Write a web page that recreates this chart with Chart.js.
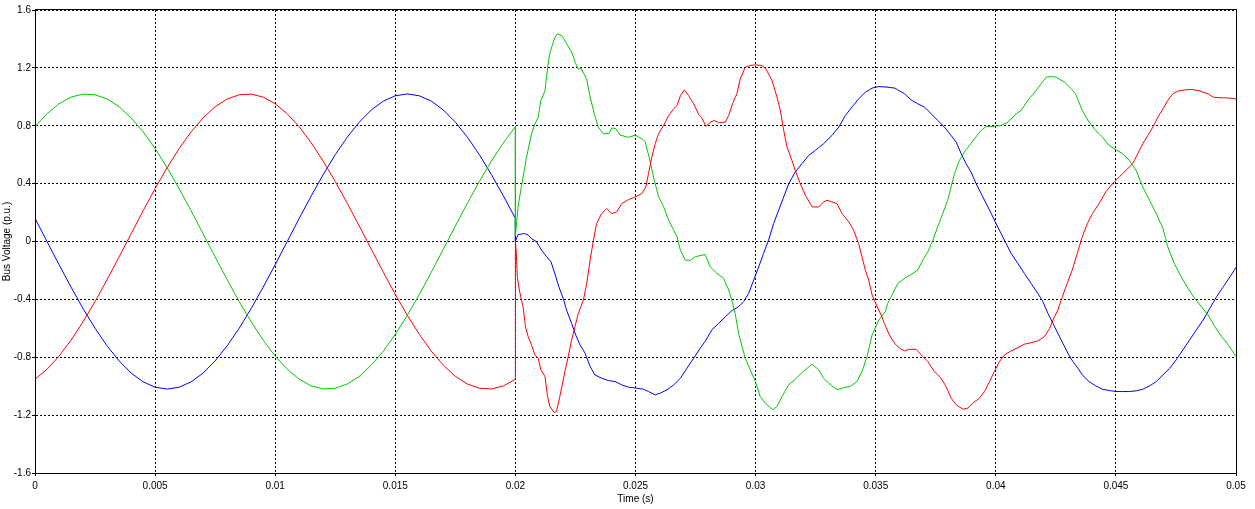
<!DOCTYPE html>
<html>
<head>
<meta charset="utf-8">
<script src="https://cdn.jsdelivr.net/npm/chart.js@4/dist/chart.umd.min.js"></script>
<style>
html,body{margin:0;padding:0;background:#fff;}
#wrap{width:1255px;height:509px;}
</style>
</head>
<body>
<div id="wrap"><canvas id="c" width="1255" height="509"></canvas></div>
<script>
// ---- data ----
const xTickLabels = ['0','0.005','0.01','0.015','0.02','0.025','0.03','0.035','0.04','0.045','0.05'];
const yTickLabels = ['-1.6','-1.2','-0.8','-0.4','0','0.4','0.8','1.2','1.6'];

// pre-fault samples (0 .. 0.02 s)
const preTime = [0,0.0005,0.001,0.0015,0.002,0.0025,0.003,0.0035,0.004,0.0045,0.005,0.0055,0.006,0.0065,0.007,0.0075,0.008,0.0085,0.009,0.0095,0.01,0.0105,0.011,0.0115,0.012,0.0125,0.013,0.0135,0.014,0.0145,0.015,0.0155,0.016,0.0165,0.017,0.0175,0.018,0.0185,0.019,0.0195,0.02];
const redPre = [-0.952,-0.883,-0.793,-0.682,-0.555,-0.415,-0.264,-0.107,0.053,0.212,0.366,0.510,0.642,0.758,0.855,0.932,0.985,1.014,1.019,0.998,0.952,0.883,0.793,0.682,0.555,0.415,0.264,0.107,-0.053,-0.212,-0.366,-0.510,-0.642,-0.758,-0.855,-0.932,-0.985,-1.014,-1.019,-0.998,-0.952];
const greenPre = [0.793,0.883,0.952,0.998,1.019,1.014,0.985,0.932,0.855,0.758,0.642,0.510,0.366,0.212,0.053,-0.107,-0.264,-0.415,-0.555,-0.682,-0.793,-0.883,-0.952,-0.998,-1.019,-1.014,-0.985,-0.932,-0.855,-0.758,-0.642,-0.510,-0.366,-0.212,-0.053,0.107,0.264,0.415,0.555,0.682,0.793];
const bluePre = [0.160,0,-0.160,-0.315,-0.463,-0.600,-0.721,-0.825,-0.909,-0.970,-1.007,-1.020,-1.007,-0.970,-0.909,-0.825,-0.721,-0.600,-0.463,-0.315,-0.160,0,0.160,0.315,0.463,0.600,0.721,0.825,0.909,0.970,1.007,1.020,1.007,0.970,0.909,0.825,0.721,0.600,0.463,0.315,0.160];

// post-fault samples (0.02 .. 0.05 s)
const redPostT = [0.02,0.02004,0.02008,0.02014,0.02022,0.02032,0.02042,0.02053,0.02067,0.02081,0.02095,0.02106,0.02123,0.02134,0.02143,0.02162,0.02171,0.02185,0.02206,0.0222,0.02234,0.02248,0.02262,0.02283,0.02297,0.02311,0.02325,0.02338,0.02359,0.0238,0.02401,0.02422,0.02443,0.02471,0.02499,0.02526,0.02543,0.02554,0.02568,0.02582,0.02596,0.02617,0.02638,0.02659,0.02673,0.02687,0.02703,0.02721,0.02742,0.02763,0.02776,0.02794,0.02811,0.02829,0.02846,0.02874,0.02888,0.02904,0.02922,0.02936,0.02957,0.02978,0.02999,0.03026,0.03043,0.03068,0.03089,0.03103,0.03117,0.03131,0.03151,0.03165,0.03186,0.03207,0.03235,0.03263,0.03283,0.03297,0.03318,0.03339,0.0336,0.03388,0.03408,0.03429,0.03443,0.03457,0.03471,0.03485,0.03506,0.03526,0.03536,0.03557,0.03578,0.03599,0.0362,0.0364,0.03668,0.03696,0.03717,0.03744,0.03772,0.03793,0.03814,0.03835,0.03863,0.03883,0.03904,0.03932,0.03953,0.03974,0.03994,0.04015,0.04036,0.04064,0.04092,0.04119,0.04147,0.04175,0.04203,0.04224,0.04238,0.04258,0.04277,0.04297,0.04318,0.04339,0.0436,0.04381,0.04402,0.0443,0.04458,0.04486,0.04514,0.04542,0.0457,0.04591,0.04612,0.04633,0.04654,0.04675,0.04696,0.04716,0.04737,0.04758,0.04786,0.04814,0.04842,0.04863,0.04884,0.04905,0.04933,0.04961,0.05];
const redPostV = [0,-0.083,-0.244,-0.313,-0.382,-0.451,-0.589,-0.657,-0.715,-0.784,-0.807,-0.887,-0.933,-1.071,-1.14,-1.182,-1.175,-1.071,-0.899,-0.795,-0.68,-0.589,-0.497,-0.405,-0.29,-0.129,0.009,0.124,0.193,0.228,0.193,0.205,0.262,0.29,0.308,0.331,0.377,0.469,0.584,0.676,0.745,0.802,0.871,0.917,0.94,1.009,1.048,1.009,0.952,0.878,0.855,0.795,0.825,0.837,0.821,0.825,0.871,0.952,1.021,1.124,1.205,1.216,1.221,1.216,1.193,1.113,0.998,0.906,0.768,0.653,0.561,0.492,0.4,0.32,0.239,0.239,0.274,0.285,0.274,0.262,0.193,0.136,0.078,-0.014,-0.106,-0.198,-0.267,-0.37,-0.451,-0.52,-0.566,-0.646,-0.703,-0.738,-0.756,-0.745,-0.745,-0.795,-0.83,-0.899,-0.945,-1.002,-1.083,-1.129,-1.159,-1.152,-1.117,-1.083,-1.037,-0.968,-0.899,-0.83,-0.784,-0.756,-0.733,-0.71,-0.699,-0.687,-0.657,-0.6,-0.543,-0.474,-0.382,-0.29,-0.198,-0.083,0.032,0.124,0.193,0.262,0.343,0.4,0.446,0.492,0.538,0.607,0.676,0.733,0.791,0.86,0.917,0.975,1.021,1.039,1.048,1.051,1.044,1.032,1.021,0.998,0.993,0.993,0.986];

const greenPostT = [0.02,0.02011,0.02025,0.02046,0.02067,0.02081,0.02095,0.02106,0.02123,0.02134,0.02143,0.02164,0.02175,0.02195,0.02209,0.02234,0.02251,0.02262,0.02273,0.02297,0.02311,0.02329,0.02345,0.02366,0.0239,0.02401,0.02418,0.02436,0.02471,0.02499,0.02527,0.0254,0.02557,0.02575,0.02596,0.02617,0.02638,0.02659,0.02673,0.02687,0.02708,0.02729,0.02749,0.0279,0.02811,0.02839,0.02867,0.02888,0.02901,0.02915,0.02929,0.02957,0.02978,0.02999,0.03019,0.0304,0.03072,0.03089,0.0311,0.03138,0.03165,0.03193,0.03235,0.03263,0.03283,0.03304,0.03339,0.03367,0.03394,0.03422,0.03443,0.03464,0.03485,0.03513,0.0354,0.0355,0.03571,0.03592,0.0362,0.03647,0.03675,0.03696,0.03717,0.03738,0.03758,0.03779,0.038,0.03814,0.03828,0.03849,0.03869,0.0389,0.03911,0.03939,0.0396,0.03988,0.04022,0.0405,0.04085,0.04106,0.04133,0.04168,0.04189,0.0421,0.04231,0.04251,0.04286,0.04314,0.04332,0.0436,0.04388,0.04416,0.04444,0.04472,0.045,0.04528,0.04556,0.04584,0.04612,0.0464,0.04668,0.04696,0.04716,0.04744,0.04772,0.048,0.04828,0.04856,0.04884,0.04912,0.0494,0.04968,0.05];
const greenPostV = [0.04,0.24,0.38,0.58,0.745,0.81,0.86,0.975,1.04,1.2,1.3,1.41,1.435,1.42,1.38,1.31,1.23,1.19,1.2,1.12,1.0,0.88,0.79,0.745,0.745,0.785,0.78,0.735,0.72,0.735,0.71,0.69,0.58,0.445,0.31,0.24,0.147,0.078,0.032,-0.06,-0.13,-0.13,-0.105,-0.09,-0.175,-0.22,-0.255,-0.335,-0.405,-0.497,-0.635,-0.807,-0.887,-0.968,-1.071,-1.117,-1.163,-1.14,-1.071,-0.99,-0.952,-0.906,-0.848,-0.887,-0.945,-0.979,-1.025,-1.009,-1.002,-0.968,-0.899,-0.795,-0.646,-0.543,-0.485,-0.428,-0.359,-0.29,-0.255,-0.228,-0.198,-0.129,-0.071,0.009,0.101,0.193,0.285,0.377,0.469,0.561,0.618,0.664,0.71,0.768,0.795,0.795,0.802,0.825,0.883,0.906,0.975,1.044,1.09,1.136,1.14,1.136,1.101,1.055,1.021,0.906,0.825,0.768,0.722,0.664,0.634,0.607,0.561,0.492,0.377,0.285,0.193,0.09,-0.037,-0.156,-0.244,-0.324,-0.393,-0.451,-0.508,-0.589,-0.657,-0.715,-0.795];

const bluePostT = [0.02,0.02011,0.02039,0.02053,0.02067,0.02088,0.02109,0.0213,0.02148,0.02164,0.02181,0.02199,0.02213,0.02234,0.02251,0.02269,0.0229,0.02311,0.02331,0.02359,0.02387,0.02415,0.02443,0.02471,0.02506,0.02533,0.02554,0.02582,0.02603,0.02631,0.02659,0.02687,0.02714,0.02742,0.02769,0.0279,0.02818,0.02846,0.02874,0.02901,0.02929,0.0295,0.02971,0.02992,0.03013,0.03033,0.03054,0.03075,0.03096,0.03117,0.03138,0.03165,0.03193,0.03221,0.03249,0.03283,0.03318,0.03346,0.03374,0.03401,0.03429,0.03457,0.03485,0.03513,0.03547,0.03579,0.03592,0.0362,0.03647,0.03675,0.03703,0.03731,0.03758,0.03786,0.03814,0.03835,0.03856,0.03876,0.03897,0.03918,0.03939,0.0396,0.03981,0.04001,0.04022,0.04043,0.04064,0.04092,0.04119,0.04147,0.04175,0.04196,0.04217,0.04238,0.04258,0.04279,0.043,0.04321,0.04342,0.0436,0.04388,0.04416,0.04444,0.04472,0.045,0.04528,0.04556,0.04584,0.04612,0.0464,0.04668,0.04696,0.04724,0.04751,0.04779,0.04807,0.04835,0.04863,0.04891,0.04919,0.04947,0.04975,0.05];
const bluePostV = [0,0.048,0.055,0.044,0.021,-0.002,-0.06,-0.106,-0.14,-0.221,-0.313,-0.393,-0.474,-0.566,-0.646,-0.715,-0.772,-0.864,-0.922,-0.945,-0.961,-0.968,-0.991,-1.007,-1.014,-1.021,-1.037,-1.06,-1.048,-1.025,-0.991,-0.945,-0.876,-0.807,-0.738,-0.69,-0.611,-0.566,-0.52,-0.478,-0.451,-0.416,-0.359,-0.267,-0.175,-0.083,0.009,0.124,0.216,0.308,0.4,0.48,0.538,0.595,0.63,0.676,0.733,0.791,0.871,0.929,0.986,1.032,1.06,1.071,1.067,1.06,1.048,1.021,0.979,0.952,0.929,0.883,0.837,0.791,0.733,0.687,0.607,0.538,0.48,0.4,0.331,0.262,0.193,0.124,0.055,-0.014,-0.083,-0.152,-0.221,-0.29,-0.359,-0.416,-0.497,-0.566,-0.634,-0.703,-0.772,-0.83,-0.876,-0.922,-0.968,-0.998,-1.021,-1.03,-1.037,-1.037,-1.037,-1.032,-1.021,-0.998,-0.968,-0.922,-0.876,-0.818,-0.749,-0.68,-0.611,-0.543,-0.462,-0.382,-0.313,-0.244,-0.179];

// ---- build points ----
function pts(tA, vA){ return tA.map((t,i)=>({x:t, y:vA[i]})); }
const redData = pts(preTime, redPre).concat(pts(redPostT, redPostV));
const greenData = pts(preTime, greenPre).concat(pts(greenPostT, greenPostV));
const blueData = pts(preTime, bluePre).concat(pts(bluePostT, bluePostV));

const FONT = {family:'"Liberation Sans", Arial, sans-serif', size:10};

const framePlugin = {
  id:'frame',
  afterDatasetsDraw(chart){
    const {ctx, chartArea:a} = chart;
    ctx.save();
    ctx.strokeStyle = '#000';
    ctx.lineWidth = 1;
    ctx.setLineDash([]);
    const l = Math.round(a.left)+0.5, t = Math.round(a.top)-0.5;
    const r = Math.round(a.right)+0.5, b = Math.round(a.bottom)+0.5;
    ctx.strokeRect(l, t, r-l, b-t);
    ctx.restore();
  }
};

const common = {display:true, color:'#000', width:1, dash:[2,2]};

new Chart(document.getElementById('c'), {
  type:'line',
  data:{datasets:[
    {label:'Red', data:redData, borderColor:'#ff0000', borderWidth:1, pointRadius:0, tension:0, fill:false},
    {label:'Green', data:greenData, borderColor:'#00c800', borderWidth:1, pointRadius:0, tension:0, fill:false},
    {label:'Blue', data:blueData, borderColor:'#0000ff', borderWidth:1, pointRadius:0, tension:0, fill:false}
  ]},
  options:{
    responsive:false,
    animation:false,
    devicePixelRatio:1,
    layout:{padding:{left:0, right:19, top:10, bottom:0}},
    plugins:{legend:{display:false}, tooltip:{enabled:false}},
    scales:{
      x:{
        type:'linear', min:0, max:0.05,
        afterFit(s){ s.height = 36; },
        afterBuildTicks(s){ s.ticks = xTickLabels.map((_,i)=>({value: i*0.005})); },
        ticks:{color:'#000', font:FONT, padding:4, maxRotation:0, autoSkip:false,
               callback:(v,i)=>xTickLabels[i]},
        grid:{color:'#000', lineWidth:1, drawTicks:true, tickLength:3, tickColor:'#000', tickBorderDash:[]},
        border:common,
        title:{display:true, text:'Time (s)', color:'#000', font:FONT, padding:{top:0,bottom:4}}
      },
      y:{
        type:'linear', min:-1.6, max:1.6,
        afterFit(s){ s.width = 35; },
        afterBuildTicks(s){ s.ticks = yTickLabels.map(l=>({value: parseFloat(l)})); },
        ticks:{color:'#000', font:FONT, padding:1, autoSkip:false,
               callback:(v,i)=>yTickLabels[i]},
        grid:{color:'#000', lineWidth:1, drawTicks:true, tickLength:3, tickColor:'#000', tickBorderDash:[]},
        border:common,
        title:{display:true, text:'Bus Voltage (p.u.)', color:'#000', font:FONT, padding:{top:1,bottom:0}}
      }
    }
  },
  plugins:[framePlugin]
});
</script>
</body>
</html>
